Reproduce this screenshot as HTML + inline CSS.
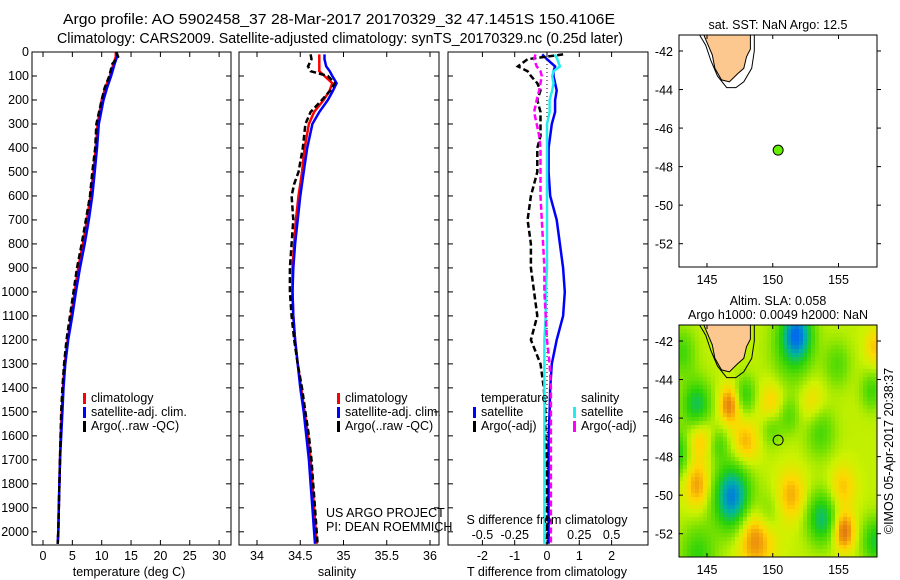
<!DOCTYPE html>
<html><head><meta charset="utf-8"><style>
body{margin:0;background:#fff;}
svg{display:block;font-family:"Liberation Sans","DejaVu Sans",sans-serif;}
text{font-size:12.5px;fill:#000;}
</style></head><body>
<svg id="s" width="900" height="580" xmlns="http://www.w3.org/2000/svg">
<text x="339" y="24" text-anchor="middle" textLength="552" lengthAdjust="spacingAndGlyphs" style="font-size:15px">Argo profile: AO 5902458_37 28-Mar-2017 20170329_32 47.1451S 150.4106E</text>
<text x="340" y="43" text-anchor="middle" textLength="566" lengthAdjust="spacingAndGlyphs" style="font-size:15px">Climatology: CARS2009. Satellite-adjusted climatology: synTS_20170329.nc (0.25d later)</text>
</svg>
<script>
// ---------- data ----------
const depthT=[0,20,50,100,150,200,300,400,500,600,700,800,900,1000,1100,1200,1300,1400,1500,1600,1700,1800,1900,2000,2050];
const tempArgo=[12.5,12.8,11.8,11.3,10.5,10.0,9.1,8.9,8.4,8.0,7.3,6.6,5.8,5.2,4.6,4.0,3.6,3.3,3.1,3.0,2.9,2.8,2.7,2.6,2.5];
const tempClim=[12.4,12.4,12.0,11.4,10.6,10.0,9.3,9.0,8.6,8.1,7.5,6.8,6.0,5.4,4.8,4.2,3.7,3.4,3.2,3.0,2.9,2.8,2.7,2.6,2.5];
const tempSat=[12.5,12.6,12.2,11.6,10.9,10.3,9.5,9.2,8.8,8.4,7.8,7.1,6.3,5.6,5.0,4.3,3.8,3.5,3.3,3.1,2.9,2.8,2.7,2.6,2.5];
const depthS=[10,30,60,80,100,130,160,200,250,300,400,500,550,600,700,800,900,1000,1100,1200,1300,1400,1500,1600,1700,1800,1900,2000,2050];
const salArgo=[34.62,34.63,34.59,34.62,34.82,34.90,34.85,34.75,34.62,34.56,34.53,34.48,34.43,34.40,34.42,34.40,34.38,34.38,34.40,34.43,34.47,34.52,34.56,34.60,34.63,34.65,34.67,34.69,34.70];
const salClim=[34.72,34.72,34.72,34.72,34.78,34.87,34.84,34.77,34.66,34.60,34.55,34.52,34.50,34.48,34.45,34.43,34.41,34.41,34.42,34.44,34.47,34.51,34.55,34.59,34.62,34.64,34.66,34.68,34.69];
const salSat=[34.78,34.78,34.80,34.84,34.87,34.92,34.88,34.82,34.72,34.64,34.58,34.54,34.52,34.50,34.47,34.44,34.42,34.41,34.42,34.44,34.47,34.50,34.54,34.57,34.60,34.62,34.64,34.66,34.67];
const depthD=[10,30,60,80,100,130,160,200,250,300,350,400,500,600,700,800,900,1000,1100,1200,1300,1400,1500,1600,1700,1800,1900,2000,2050];
const dTSat=[-0.15,0.0,0.25,0.2,0.2,0.25,0.3,0.25,0.25,0.15,0.1,0.05,0.05,0.1,0.3,0.4,0.5,0.55,0.5,0.3,0.15,0.1,0.08,0.05,0.05,0.05,0.05,0.05,0.05];
const dTArgo=[0.5,-0.6,-0.9,-0.6,-0.5,-0.3,-0.2,-0.3,-0.2,-0.2,-0.2,-0.3,-0.3,-0.5,-0.6,-0.5,-0.5,-0.4,-0.3,-0.5,-0.2,-0.1,-0.05,-0.05,0,0,0,0,0];
const dSSat=[0.06,0.08,0.1,0.05,0.04,0.05,0.04,0.02,0.02,0.0,0.0,0.0,0.0,0.0,0.0,0.0,0.0,-0.01,-0.01,-0.02,-0.02,-0.02,-0.02,-0.02,-0.02,-0.02,-0.02,-0.02,-0.02];
const dSArgo=[-0.09,-0.1,-0.08,-0.05,-0.04,-0.05,-0.06,-0.08,-0.1,-0.08,-0.06,-0.05,-0.05,-0.05,-0.04,-0.03,-0.02,-0.02,-0.01,0,0.02,0.03,0.03,0.03,0.03,0.03,0.03,0.03,0.03];
const depthTicks=[0,100,200,300,400,500,600,700,800,900,1000,1100,1200,1300,1400,1500,1600,1700,1800,1900,2000];
const tempTicks=[0,5,10,15,20,25,30];
const salTicks=[34,34.5,35,35.5,36];
const dTTicks=[-2,-1,0,1,2];
const dSTicks=[-0.5,-0.25,0,0.25,0.5];
const lonTicks=[145,150,155];
const latTicks=[-42,-44,-46,-48,-50,-52];
const argoLon=150.41, argoLat=-47.145;
// SLA anomaly blobs: lon, lat, amplitude, radius(deg)
const blobLon=[151.8,151.5,144.2,146.7,147.9,149.9,151.2,144.4,147.9,149.9,153.6,145.9,142.8,146.9,144.3,151.4,155.3,153.7,148.7,155.4,157.8,144.3,149.5,157.5,154.9,143.1,157.8,142.8,153.0];
const blobLat=[-41.6,-42.5,-45.4,-45.3,-44.8,-45.3,-45.9,-46.9,-47.3,-46.5,-46.7,-47.4,-47.4,-50.1,-49.5,-50.0,-49.6,-51.2,-52.1,-51.9,-52.4,-53.1,-51.0,-44.6,-43.2,-42.6,-42.3,-48.2,-45.2];
const blobAmp=[-1.4,-0.6,-1.1,0.9,-0.7,0.5,-0.5,0.6,0.6,-0.5,-0.6,-0.5,-0.5,-1.7,0.7,0.6,0.5,-1.1,0.9,1.0,-0.9,-0.7,-0.5,-0.6,-0.5,-0.6,0.5,-0.5,0.4];
const blobRad=[1.1,1.6,1.1,0.8,0.8,1.0,0.8,1.0,1.0,0.8,1.1,0.7,0.8,1.4,1.0,1.1,1.0,1.1,1.4,0.8,1.0,1.3,1.0,0.8,1.0,1.0,0.8,0.8,1.0];
// ---------- helpers ----------
const SV=document.getElementById('s');const NS='http://www.w3.org/2000/svg';
function mk(tag,attrs,parent){const e=document.createElementNS(NS,tag);for(const k in attrs)e.setAttribute(k,attrs[k]);(parent||SV).appendChild(e);return e;}
function txt(x,y,t,anchor,parent){const e=mk('text',{x:x,y:y,'text-anchor':anchor||'start'},parent);e.textContent=t;return e;}
const pTop=52,pBot=545;
const yD=d=>pTop+d*(pBot-pTop)/2055;
function line(xs,ys,fx,color,w,dash,name){let d='';xs.forEach((v,i)=>{d+=(i?'L':'M')+fx(v).toFixed(1)+','+yD(ys[i]).toFixed(1);});
 const p=mk('path',{d:d,fill:'none',stroke:color,'stroke-width':w});if(dash)p.setAttribute('stroke-dasharray',dash);
 return p;}
function frame(x0,x1,name){const r=mk('rect',{x:x0,y:pTop,width:x1-x0,height:pBot-pTop,fill:'none',stroke:'#000','stroke-width':1});
 
 depthTicks.forEach(d=>{mk('line',{x1:x0,x2:x0+5,y1:yD(d),y2:yD(d),stroke:'#000'});mk('line',{x1:x1-5,x2:x1,y1:yD(d),y2:yD(d),stroke:'#000'});});}
function xticks(vals,fx,y,labels){vals.forEach(v=>{const x=fx(v);mk('line',{x1:x,x2:x,y1:pBot,y2:pBot-5,stroke:'#000'});mk('line',{x1:x,x2:x,y1:pTop,y2:pTop+5,stroke:'#000'});
 if(labels){const t=txt(x,y,String(v),'middle');}});}
function legend(x,y,items,g){items.forEach((it,i)=>{mk('rect',{x:x,y:y+i*14-9,width:3,height:11,fill:it[1]},g);txt(x+8,y+i*14,it[0],'start',g);});}
// ---------- panel 1: temperature ----------
const xT=v=>43+v*5.87;
frame(32,231,'temperature-panel');
depthTicks.forEach(d=>{const t=txt(29,yD(d)+4,String(d),'end');});
xticks(tempTicks,xT,560,true);
line(tempClim,depthT,xT,'#f00',2.5,null,'temp-climatology-line');
line(tempSat,depthT,xT,'#00f',2.5,null,'temp-satellite-line');
line(tempArgo,depthT,xT,'#000',2.5,'6,3','temp-argo-line');
{const g=mk('g',{});legend(83,402,[['climatology','#f00'],['satellite-adj. clim.','#00f'],['Argo(..raw -QC)','#000']],g);}
{const t=txt(129,576,'temperature (deg C)','middle');}
// ---------- panel 2: salinity ----------
const xS=v=>257+(v-34)*86.5;
frame(239,439,'salinity-panel');
xticks(salTicks,xS,560,true);
line(salClim,depthS,xS,'#f00',2.5,null,'sal-climatology-line');
line(salSat,depthS,xS,'#00f',2.5,null,'sal-satellite-line');
line(salArgo,depthS,xS,'#000',2.5,'6,3','sal-argo-line');
{const g=mk('g',{});legend(337,402,[['climatology','#f00'],['satellite-adj. clim.','#00f'],['Argo(..raw -QC)','#000']],g);}
{const t=txt(326,517,'US ARGO PROJECT');
 const t2=txt(326,531,'PI: DEAN ROEMMICH');}
{const t=txt(337,576,'salinity','middle');}
// ---------- panel 3: differences ----------
const xDT=v=>547+v*32.3, xDS=v=>547+v*129.2;
frame(448,648,'difference-panel');
xticks(dTTicks,xDT,560,true);
dSTicks.forEach(v=>{const t=txt(xDS(v),539,String(v),'middle');});
mk('line',{x1:547,x2:547,y1:pTop,y2:pBot,stroke:'#000','stroke-dasharray':'1,3'});
line(dTSat,depthD,xDT,'#00f',2.5,null,'tdiff-satellite-line');
line(dTArgo,depthD,xDT,'#000',2.5,'6,3','tdiff-argo-line');
line(dSSat,depthD,xDS,'#2ee',2.5,null,'sdiff-satellite-line');
line(dSArgo,depthD,xDS,'#f0f',2.5,'6,3','sdiff-argo-line');
{const g=mk('g',{});
 txt(481,402,'temperature','start',g);txt(581,402,'salinity','start',g);
 legend(473,416,[['satellite','#00f'],['Argo(-adj)','#000']],g);legend(573,416,[['satellite','#2ee'],['Argo(-adj)','#f0f']],g);}
{const t=txt(547,524,'S difference from climatology','middle');
 const t2=txt(547,576,'T difference from climatology','middle');}
// ---------- maps ----------
const mx0=679,mx1=877;
const xL=v=>707+(v-145)*13.15;
function cmap(v){const st=[[-1.5,[0,110,235]],[-1.0,[0,180,160]],[-0.45,[40,210,10]],[0.0,[120,225,0]],[0.35,[205,242,0]],[0.7,[255,215,0]],[1.0,[240,155,10]],[1.4,[215,100,20]]];
 if(v<=st[0][0])return st[0][1];for(let i=1;i<st.length;i++){if(v<=st[i][0]){const a=st[i-1],b=st[i],t=(v-a[0])/(b[0]-a[0]);return a[1].map((c,k)=>Math.round(c+(b[1][k]-c)*t));}}return st[st.length-1][1];}
function drawMap(my0,my1,name,heat,titles){
 const yL=v=>my0+16+(-42-v)*19.27;
 const g=mk('g',{});
 const cpId='clip-'+name;
 const cpEl=mk('clipPath',{id:cpId},g);
 mk('rect',{x:mx0,y:my0,width:mx1-mx0,height:my1-my0},cpEl);
 const inner=mk('g',{'clip-path':'url(#'+cpId+')'},g);
 if(heat){const step=4;const hg=mk('g',{},inner);
  for(let y=my0;y<my1;y+=step)for(let x=mx0;x<mx1;x+=step){const lon=145+(x+2-707)/13.15,lat=-42-(y+2-my0-16)/19.27;
   let v=0.3;for(let i=0;i<blobLon.length;i++){const dx=(lon-blobLon[i])/blobRad[i],dy=(lat-blobLat[i])/(blobRad[i]*1.2);v+=blobAmp[i]*Math.exp(-(dx*dx+dy*dy));}
   const c=cmap(v);mk('rect',{x:x,y:y,width:step+0.3,height:step+0.3,fill:'rgb('+c.join(',')+')'},hg);}}
 const tas=[[144.6,-40.9],[144.9,-41.4],[145.4,-42.2],[145.6,-42.9],[146.1,-43.5],[146.7,-43.6],[147.3,-43.2],[147.8,-42.9],[148.0,-42.3],[148.3,-41.9],[148.3,-40.9]];
 const coast=[[144.2,-40.9],[144.9,-41.7],[145.3,-42.5],[145.8,-43.3],[146.5,-43.9],[147.2,-43.9],[147.8,-43.6],[148.4,-42.9],[148.6,-42.0],[148.6,-40.9]];
 const pth=a=>a.map((p,i)=>(i?'L':'M')+xL(p[0]).toFixed(1)+','+yL(p[1]).toFixed(1)).join('');
 const c1=mk('path',{d:pth(coast),fill:'none',stroke:'#000','stroke-width':1},inner);
 const t=mk('path',{d:pth(tas)+'Z',fill:'#fcc890',stroke:'#000','stroke-width':1},inner);
 const dot=mk('circle',{cx:xL(argoLon),cy:yL(argoLat),r:5,fill:heat?'none':'#6e0',stroke:'#000'},g);
 mk('rect',{x:mx0,y:my0,width:mx1-mx0,height:my1-my0,fill:'none',stroke:'#000'},g);
 lonTicks.forEach(v=>{mk('line',{x1:xL(v),x2:xL(v),y1:my1,y2:my1-4,stroke:'#000'},g);mk('line',{x1:xL(v),x2:xL(v),y1:my0,y2:my0+4,stroke:'#000'},g);txt(xL(v),my1+17,String(v),'middle',g);});
 latTicks.forEach(v=>{mk('line',{x1:mx0,x2:mx0+4,y1:yL(v),y2:yL(v),stroke:'#000'},g);mk('line',{x1:mx1,x2:mx1+4,y1:yL(v),y2:yL(v),stroke:'#000'},g);txt(mx0-6,yL(v)+5,String(v),'end',g);});
 titles.forEach((s,i)=>{txt(778,my0-(titles.length-1-i)*14-6,s,'middle',g);});
}
drawMap(35,267,'sst-map',false,['sat. SST: NaN Argo: 12.5']);
drawMap(325,557,'sla-map',true,['Altim. SLA: 0.058','Argo h1000: 0.0049 h2000: NaN']);
{const t=txt(0,0,'©IMOS 05-Apr-2017 20:38:37','middle');t.setAttribute('transform','translate(893,451) rotate(-90)');}
</script>
</body></html>
